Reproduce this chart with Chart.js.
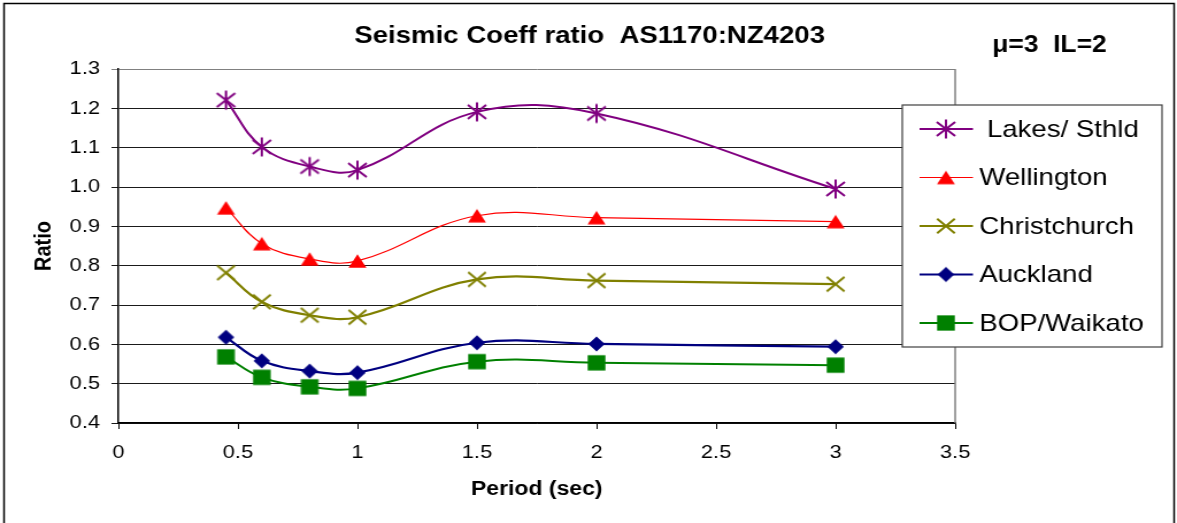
<!DOCTYPE html>
<html>
<head>
<meta charset="utf-8">
<script src="https://cdn.jsdelivr.net/npm/chart.js@4/dist/chart.umd.min.js"></script>
<style>
  html, body { margin: 0; padding: 0; background: #fff; overflow: hidden; }
  /* the source chart is stretched sideways, so draw narrower and stretch the box */
  #wrap { width: 1024px; height: 523px; transform: scaleX(1.1494); transform-origin: 0 0; }
</style>
</head>
<body>
<div id="wrap"><canvas id="seismicChart"></canvas></div>
<script>
// Period (sec) on the x axis
const periods = [0.45, 0.6, 0.8, 1.0, 1.5, 2.0, 3.0];

// ratio AS1170 : NZ4203 for each region
const lakes = [1.221, 1.102, 1.052, 1.043, 1.191, 1.187, 0.995];
const wellington = [0.947, 0.856, 0.817, 0.812, 0.927, 0.922, 0.912];
const christchurch = [0.782, 0.708, 0.674, 0.669, 0.765, 0.762, 0.753];
const auckland = [0.618, 0.558, 0.532, 0.528, 0.604, 0.601, 0.594];
const bopWaikato = [0.568, 0.516, 0.492, 0.488, 0.556, 0.553, 0.547];

const seriesNames = [' Lakes/ Sthld', 'Wellington', 'Christchurch', 'Auckland', 'BOP/Waikato'];
const yTicks = [0.4, 0.5, 0.6, 0.7, 0.8, 0.9, 1.0, 1.1, 1.2, 1.3];
const xTicks = [0, 0.5, 1, 1.5, 2, 2.5, 3, 3.5];

const FONT = '"Liberation Sans", Arial, sans-serif';
Chart.defaults.font.family = FONT;
Chart.defaults.color = '#000';

// little canvases used as point styles (Excel-like markers)
function makeMarker(kind, color) {
  const c = document.createElement('canvas');
  c.width = 24; c.height = 24;
  const g = c.getContext('2d');
  g.translate(12, 12);
  g.fillStyle = color;
  g.strokeStyle = color;
  g.lineWidth = 2;
  g.beginPath();
  if (kind === 'star') {
    g.moveTo(0, -9.5); g.lineTo(0, 9.5);
    g.moveTo(-8, -7); g.lineTo(8, 7);
    g.moveTo(-8, 7); g.lineTo(8, -7);
    g.stroke();
  } else if (kind === 'triangle') {
    g.moveTo(0, -6.8); g.lineTo(7.8, 6.8); g.lineTo(-7.8, 6.8); g.closePath();
    g.fill();
  } else if (kind === 'cross') {
    g.moveTo(-7.7, -7.2); g.lineTo(7.7, 7.2);
    g.moveTo(-7.7, 7.2); g.lineTo(7.7, -7.2);
    g.stroke();
  } else if (kind === 'diamond') {
    g.moveTo(0, -7.6); g.lineTo(7.2, 0); g.lineTo(0, 7.6); g.lineTo(-7.2, 0); g.closePath();
    g.fill();
  } else {
    g.rect(-7.7, -7.65, 15.4, 15.3);
    g.fill();
  }
  return c;
}

function series(label, values, color, width, marker) {
  return {
    label: label,
    data: periods.map((p, i) => ({ x: p, y: values[i] })),
    borderColor: color,
    backgroundColor: color,
    borderWidth: width,
    pointStyle: makeMarker(marker, color),
    pointRadius: 8,
    tension: 0.4,
    fill: false
  };
}

const datasets = [
  series(seriesNames[0], lakes, '#800080', 2, 'star'),
  series(seriesNames[1], wellington, '#ff0000', 1.2, 'triangle'),
  series(seriesNames[2], christchurch, '#808000', 2.2, 'cross'),
  series(seriesNames[3], auckland, '#000080', 2.2, 'diamond'),
  series(seriesNames[4], bopWaikato, '#008000', 2, 'square')
];

// titles, plot frame and the boxed legend
const decorations = {
  id: 'decorations',
  beforeDatasetsDraw(chart) {
    const { ctx, chartArea: a } = chart;
    ctx.save();
    ctx.strokeStyle = '#808080';
    ctx.lineWidth = 1.5;
    ctx.beginPath();
    ctx.moveTo(a.right, a.top);
    ctx.lineTo(a.right, a.bottom);
    ctx.stroke();
    ctx.restore();
  },
  afterDraw(chart) {
    const ctx = chart.ctx;
    ctx.save();

    // outer frame
    ctx.strokeStyle = '#000';
    ctx.lineWidth = 1.5;
    ctx.strokeRect(3.5, 3.5, 1018, 530);

    ctx.fillStyle = '#000';
    ctx.textBaseline = 'middle';
    ctx.textAlign = 'center';
    ctx.font = 'bold 24px ' + FONT;
    ctx.fillText('Seismic Coeff ratio  AS1170:NZ4203', 513, 36);

    ctx.font = 'bold 23px ' + FONT;
    ctx.fillText('\u03bc=3  IL=2', 913, 46);

    ctx.font = 'bold 20px ' + FONT;
    ctx.fillText('Period (sec)', 467, 489);

    ctx.save();
    ctx.translate(38, 246);
    ctx.rotate(-Math.PI / 2);
    ctx.fillText('Ratio', 0, 0);
    ctx.restore();

    // legend
    const boxL = 785, boxT = 105, boxR = 1011, boxB = 347;
    ctx.fillStyle = '#fff';
    ctx.fillRect(boxL, boxT, boxR - boxL, boxB - boxT);
    ctx.strokeStyle = '#404040';
    ctx.lineWidth = 1.2;
    ctx.strokeRect(boxL, boxT, boxR - boxL, boxB - boxT);

    ctx.font = '24px ' + FONT;
    ctx.textAlign = 'left';
    chart.data.datasets.forEach((ds, i) => {
      const y = 129 + i * 48.5;
      ctx.strokeStyle = ds.borderColor;
      ctx.lineWidth = ds.borderWidth;
      ctx.beginPath();
      ctx.moveTo(800, y);
      ctx.lineTo(846.5, y);
      ctx.stroke();
      ctx.drawImage(ds.pointStyle, 823 - 12, y - 12);
      ctx.fillStyle = '#000';
      ctx.fillText(ds.label, 852, y + 1);
    });
    ctx.restore();
  }
};

const ctx = document.getElementById('seismicChart').getContext('2d');
const seismicChart = new Chart(ctx, {
  type: 'line',
  data: { datasets: datasets },
  options: {
    responsive: true,
    maintainAspectRatio: false,
    animation: false,
    layout: { padding: { left: 0, top: 69, right: 193, bottom: 0 } },
    plugins: {
      legend: { display: false },
      title: { display: false },
      tooltip: { enabled: false }
    },
    scales: {
      x: {
        type: 'linear',
        min: 0,
        max: 3.5,
        afterFit: scale => { scale.height = 100; },
        afterBuildTicks: scale => { scale.ticks = xTicks.map(v => ({ value: v })); },
        ticks: {
          font: { size: 19 },
          padding: 12,
          maxRotation: 0,
          callback: v => String(Math.round(v * 10) / 10)
        },
        grid: { drawOnChartArea: false, drawTicks: true, tickLength: 6, color: '#000' },
        border: { color: '#000', width: 1.5 }
      },
      y: {
        min: 0.4,
        max: 1.3,
        afterFit: scale => { scale.width = 103; },
        afterBuildTicks: scale => { scale.ticks = yTicks.map(v => ({ value: v })); },
        ticks: {
          font: { size: 19 },
          padding: 10,
          callback: v => v.toFixed(1)
        },
        grid: {
          tickLength: 6,
          lineWidth: 1,
          color: c => (c.tick && c.tick.value > 1.29 ? '#808080' : '#1a1a1a')
        },
        border: { color: '#000', width: 1.5 }
      }
    }
  },
  plugins: [decorations]
});
</script>
</body>
</html>
